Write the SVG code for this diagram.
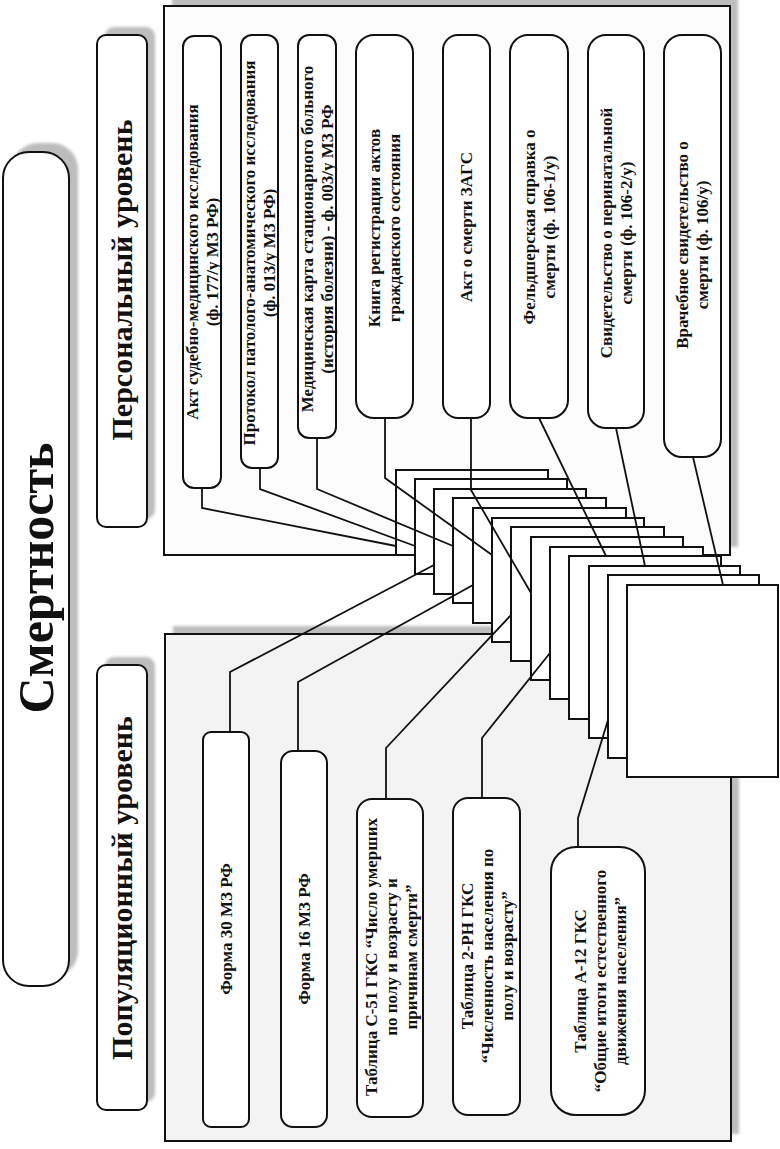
<svg xmlns="http://www.w3.org/2000/svg" width="780" height="1149" viewBox="0 0 780 1149">
<defs>
<filter id="blur" x="-10%" y="-10%" width="120%" height="120%"><feGaussianBlur stdDeviation="1.8"/></filter>
</defs>
<style>
.sh{fill:#bdbdbd;filter:url(#blur)}
.box{fill:#ffffff;stroke:#111;stroke-width:2}
.pg{fill:#ffffff;stroke:#111;stroke-width:2}
.ln{fill:none;stroke:#111;stroke-width:1.8}
text{font-family:"Liberation Serif","Times New Roman",serif;font-weight:bold;fill:#111}
.t{font-size:17px}
.big{font-size:30px}
.title{font-size:50px}
</style>
<rect width="780" height="1149" fill="#ffffff"/>

<!-- panels -->
<g id="panel-personal">
<rect class="sh" x="172" y="-2" width="566" height="549"/>
<rect x="164" y="6" width="566" height="549" fill="#fcfcfc" stroke="#111" stroke-width="2"/>
</g>
<g id="panel-population">
<rect class="sh" x="173" y="626" width="566" height="508"/>
<rect x="165" y="634" width="566" height="507" fill="#f3f3f3" stroke="#111" stroke-width="2"/>
</g>

<!-- titles -->
<g id="title-mortality">
<rect class="sh" x="12" y="143" width="66" height="834" rx="26"/>
<rect class="box" x="3" y="152" width="66" height="834" rx="26"/>
<text class="title" transform="translate(36,578) rotate(-90)" text-anchor="middle" y="17">Смертность</text>
</g>
<g id="title-personal">
<rect class="sh" x="105" y="27" width="50" height="492" rx="9"/>
<rect class="box" x="97" y="35" width="50" height="492" rx="9"/>
<text class="big" transform="translate(122,280) rotate(-90)" text-anchor="middle" y="10">Персональный  уровень</text>
</g>
<g id="title-population">
<rect class="sh" x="105" y="657" width="50" height="445" rx="9"/>
<rect class="box" x="97" y="665" width="50" height="445" rx="9"/>
<text class="big" transform="translate(122,888) rotate(-90)" text-anchor="middle" y="10">Популяционный  уровень</text>
</g>

<!-- personal-level documents -->
<g id="doc-forensic">
<rect class="box" x="183" y="36" width="38" height="452" rx="11"/>
<text class="t" transform="translate(202,262) rotate(-90)" text-anchor="middle"><tspan x="0" y="-4.5">Акт судебно-медицинского исследования</tspan><tspan x="0" y="15.5">(ф. 177/у МЗ РФ)</tspan></text>
</g>
<g id="doc-autopsy">
<rect class="box" x="241" y="35" width="37" height="433" rx="11"/>
<text class="t" transform="translate(259.5,253) rotate(-90)" text-anchor="middle"><tspan x="0" y="-4.5">Протокол патолого-анатомического исследования</tspan><tspan x="0" y="15.5">(ф. 013/у МЗ РФ)</tspan></text>
</g>
<g id="doc-hospital">
<rect class="box" x="298" y="35" width="38" height="403" rx="11"/>
<text class="t" transform="translate(317,239) rotate(-90)" text-anchor="middle"><tspan x="0" y="-4.5">Медицинская карта стационарного больного</tspan><tspan x="0" y="15.5">(история болезни) - ф. 003/у МЗ РФ</tspan></text>
</g>
<g id="doc-registry">
<rect class="box" x="356" y="35" width="57" height="383" rx="18"/>
<text class="t" transform="translate(384.5,228) rotate(-90)" text-anchor="middle"><tspan x="0" y="-4.5">Книга регистрации актов</tspan><tspan x="0" y="15.5">гражданского состояния</tspan></text>
</g>
<g id="doc-zags">
<rect class="box" x="443" y="35" width="47" height="383" rx="15"/>
<text class="t" transform="translate(466.5,227) rotate(-90)" text-anchor="middle" y="5.5">Акт о смерти ЗАГС</text>
</g>
<g id="doc-feldsher">
<rect class="box" x="510" y="35" width="58" height="383" rx="18"/>
<text class="t" transform="translate(539,227) rotate(-90)" text-anchor="middle"><tspan x="0" y="-4.5">Фельдшерская справка о</tspan><tspan x="0" y="15.5">смерти (ф. 106-1/у)</tspan></text>
</g>
<g id="doc-perinatal">
<rect class="box" x="588" y="35" width="56" height="393" rx="18"/>
<text class="t" transform="translate(616,233) rotate(-90)" text-anchor="middle"><tspan x="0" y="-4.5">Свидетельство о перинатальной</tspan><tspan x="0" y="15.5">смерти (ф. 106-2/у)</tspan></text>
</g>
<g id="doc-medical">
<rect class="box" x="664" y="35" width="57" height="422" rx="18"/>
<text class="t" transform="translate(692.5,245) rotate(-90)" text-anchor="middle"><tspan x="0" y="-4.5">Врачебное свидетельство о</tspan><tspan x="0" y="15.5">смерти (ф. 106/у)</tspan></text>
</g>

<!-- population-level documents -->
<g id="doc-form30">
<rect class="box" x="203" y="732" width="46" height="395" rx="8"/>
<text class="t" transform="translate(226,929) rotate(-90)" text-anchor="middle" y="5.5">Форма 30 МЗ РФ</text>
</g>
<g id="doc-form16">
<rect class="box" x="281" y="751" width="46" height="376" rx="12"/>
<text class="t" transform="translate(304,939) rotate(-90)" text-anchor="middle" y="5.5">Форма 16 МЗ РФ</text>
</g>
<g id="doc-c51">
<rect class="box" x="357" y="799" width="66" height="318" rx="15"/>
<text class="t" transform="translate(391,957) rotate(-90)" text-anchor="middle"><tspan x="0" y="-14.5">Таблица С-51 ГКС “Число умерших</tspan><tspan x="0" y="5.5">по полу и возрасту и</tspan><tspan x="0" y="25.5">причинам смерти”</tspan></text>
</g>
<g id="doc-2rn">
<rect class="box" x="453" y="798" width="67" height="317" rx="15"/>
<text class="t" transform="translate(487,956) rotate(-90)" text-anchor="middle"><tspan x="0" y="-14.5">Таблица 2-РН ГКС</tspan><tspan x="0" y="5.5">“Численность населения по</tspan><tspan x="0" y="25.5">полу и возрасту”</tspan></text>
</g>
<g id="doc-a12">
<rect class="box" x="551" y="847" width="94" height="268" rx="25"/>
<text class="t" transform="translate(600,981) rotate(-90)" text-anchor="middle"><tspan x="0" y="-14.5">Таблица А-12 ГКС</tspan><tspan x="0" y="5.5">“Общие итоги естественного</tspan><tspan x="0" y="25.5">движения населения”</tspan></text>
</g>

<!-- stack of pages -->
<g id="page-stack">
<rect class="pg" x="396" y="470" width="152" height="85"/>
<rect class="pg" x="415" y="479" width="152" height="95"/>
<rect class="pg" x="434" y="489" width="152" height="105"/>
<rect class="pg" x="453" y="498" width="153" height="105"/>
<rect class="pg" x="473" y="508" width="153" height="115"/>
<rect class="pg" x="492" y="518" width="152" height="124"/>
<rect class="pg" x="511" y="527" width="153" height="134"/>
<rect class="pg" x="531" y="537" width="152" height="143"/>
<rect class="pg" x="550" y="547" width="153" height="152"/>
<rect class="pg" x="569" y="556" width="152" height="163"/>
<rect class="pg" x="589" y="566" width="151" height="172"/>
<rect class="pg" x="608" y="575" width="151" height="183"/>
<rect class="pg" x="627" y="585" width="151" height="192"/>
</g>

<!-- connectors -->
<g id="connectors">
<polyline class="ln" points="202,488 202,508 396,546"/>
<polyline class="ln" points="260,468 260,489 415,546"/>
<polyline class="ln" points="317,438 317,489 453,546"/>
<polyline class="ln" points="385,418 385,478 492,555"/>
<polyline class="ln" points="471,418 471,490 531,593"/>
<polyline class="ln" points="539,418 606,556"/>
<polyline class="ln" points="616,428 645,566"/>
<polyline class="ln" points="693,457 723,585"/>
<polyline class="ln" points="230,732 230,672 434,565"/>
<polyline class="ln" points="298,751 298,682 473,585"/>
<polyline class="ln" points="386,799 386,748 511,615"/>
<polyline class="ln" points="482,798 482,738 550,653"/>
<polyline class="ln" points="578,847 578,818 608,720"/>
</g>
</svg>
